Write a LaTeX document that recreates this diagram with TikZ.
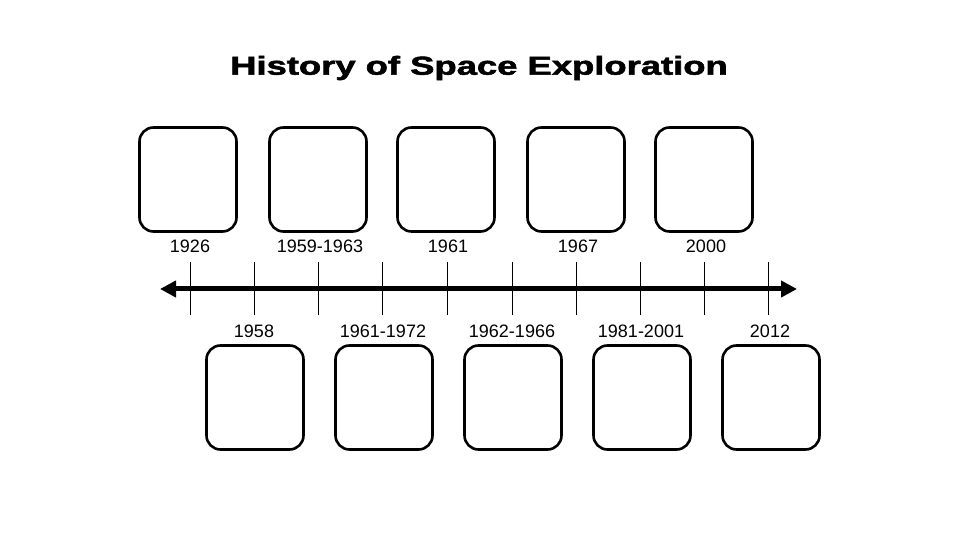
\documentclass[tikz,border=0pt]{standalone}
\usepackage{fontspec}
\setmainfont{Liberation Sans}
\newfontfamily\titlefont[FakeBold=1.8]{Liberation Sans Bold}
\usetikzlibrary{arrows.meta}
\begin{document}
\begin{tikzpicture}[x=1pt,y=1pt,
  card/.style={draw=black,line width=2.6pt,rounded corners=14pt,minimum width=97pt,minimum height=104pt,inner sep=0pt,fill=white},
  yearlabel/.style={font=\fontsize{18}{20}\selectfont,inner sep=0pt,anchor=center},
  tickline/.style={line width=1pt},
  axisline/.style={line width=5pt,{Triangle[length=16pt,width=16pt]}-{Triangle[length=16pt,width=16pt]},shorten <=-2pt,shorten >=-2pt}]
\useasboundingbox (0,0) rectangle (960,540);
\node[font=\fontsize{26}{30}\titlefont,inner sep=0pt] (title) at (479,472) {\scalebox{1.40}[1]{History of Space Exploration}};
% axis
\coordinate (L) at (162,251);
\coordinate (R) at (795,251);
\draw[axisline] (L) -- (R);
% ticks
\foreach \i/\x in {1/190,2/254,3/318,4/382,5/447,6/512,7/576,8/640,9/704,10/768}{
  \coordinate (t\i a) at (\x,278);
  \coordinate (t\i b) at (\x,225);
  \draw[tickline] (t\i a) -- (t\i b);
}
% top cards and labels
\foreach \n/\x/\lab in {1/188/1926,2/318/1959-1963,3/446/1961,4/576/1967,5/704/2000}{
  \node[card] (top\n) at (\x,360.5) {};
  \node[yearlabel] (toplab\n) at (\x+2,294) {\lab};
}
% bottom cards and labels
\foreach \n/\x/\lab in {1/255/1958,2/384/1961-1972,3/513/1962-1966,4/642/1981-2001,5/771/2012}{
  \node[card] (bot\n) at (\x,142.5) {};
  \node[yearlabel] (botlab\n) at (\x-1,209) {\lab};
}
\end{tikzpicture}
\end{document}
